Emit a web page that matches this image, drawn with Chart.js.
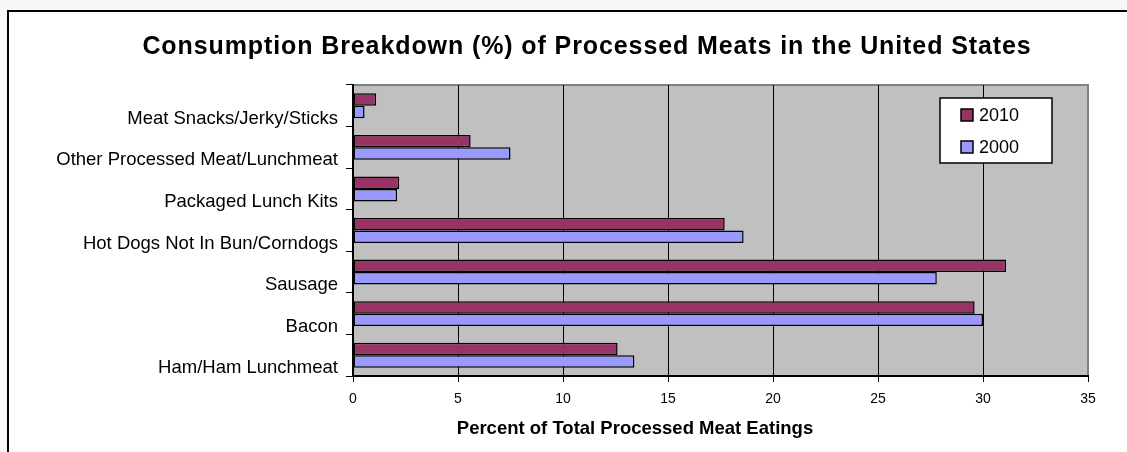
<!DOCTYPE html>
<html lang="en">
<head>
  <meta charset="UTF-8" />
  <title>Processed Meats Consumption</title>
  <script src="https://cdn.jsdelivr.net/npm/chart.js"></script>
  <style>
    html, body {
      margin: 0;
      padding: 0;
      width: 1127px;
      height: 452px;
      overflow: hidden;
      background: #f8f8f8;
      font-family: Arial, "Liberation Sans", sans-serif;
    }
    /* outer chart frame, runs off the right and bottom edge like the original */
    #frame {
      position: absolute;
      left: 7px;
      top: 10px;
      width: 1200px;
      height: 500px;
      border: 2px solid #000;
      background: #fff;
    }
    #wrap {
      position: absolute;
      left: 0;
      top: 0;
      width: 1127px;
      height: 452px;
    }
    .ttl {
      position: absolute;
      white-space: nowrap;
      transform: translateX(-50%);
      font-weight: bold;
      color: #000;
      line-height: 1;
    }
    #mainTitle { left: 587px; top: 33px; font-size: 25px; letter-spacing: 0.9px; }
    #xTitle { left: 635px; top: 419px; font-size: 18.5px; }
  </style>
</head>
<body>
  <div id="frame"></div>
  <div id="wrap"><canvas id="meatChart" width="1127" height="452"></canvas></div>
  <div id="mainTitle" class="ttl">Consumption Breakdown (%) of Processed Meats in the United States</div>
  <div id="xTitle" class="ttl">Percent of Total Processed Meat Eatings</div>

  <script>
    // categories, top to bottom
    const categories = [
      'Meat Snacks/Jerky/Sticks',
      'Other Processed Meat/Lunchmeat',
      'Packaged Lunch Kits',
      'Hot Dogs Not In Bun/Corndogs',
      'Sausage',
      'Bacon',
      'Ham/Ham Lunchmeat'
    ];
    const seriesNames = ['2010', '2000'];
    const values2010 = [1.1, 5.6, 2.2, 17.7, 31.1, 29.6, 12.6];
    const values2000 = [0.55, 7.5, 2.1, 18.6, 27.8, 30.0, 13.4];
    const xTicks = [0, 5, 10, 15, 20, 25, 30, 35];

    const MAROON = '#993366';
    const LAVENDER = '#9999ff';

    // gray plot background + gray top/right border
    const plotBg = {
      id: 'plotBg',
      beforeDraw(chart) {
        const { ctx, chartArea: a } = chart;
        ctx.save();
        ctx.fillStyle = '#c0c0c0';
        ctx.fillRect(a.left, a.top, a.right - a.left, a.bottom - a.top);
        ctx.strokeStyle = '#808080';
        ctx.lineWidth = 2;
        ctx.beginPath();
        ctx.moveTo(a.left, a.top);
        ctx.lineTo(a.right, a.top);
        ctx.lineTo(a.right, a.bottom);
        ctx.stroke();
        ctx.restore();
      }
    };

    // legend box inside the plot, like Excel
    const boxLegend = {
      id: 'boxLegend',
      afterDraw(chart) {
        const { ctx } = chart;
        const x = 940, y = 98, w = 112, h = 65;
        ctx.save();
        ctx.fillStyle = '#fff';
        ctx.fillRect(x, y, w, h);
        ctx.strokeStyle = '#000';
        ctx.lineWidth = 1.5;
        ctx.strokeRect(x, y, w, h);
        ctx.font = '18px Arial, "Liberation Sans", sans-serif';
        ctx.textBaseline = 'middle';
        chart.data.datasets.forEach((ds, i) => {
          const cy = y + 17 + i * 32;
          ctx.fillStyle = ds.backgroundColor;
          ctx.fillRect(x + 21, cy - 6, 12, 12);
          ctx.strokeStyle = '#000';
          ctx.lineWidth = 1.5;
          ctx.strokeRect(x + 21, cy - 6, 12, 12);
          ctx.fillStyle = '#000';
          ctx.fillText(ds.label, x + 39, cy + 1);
        });
        ctx.restore();
      }
    };

    const ctx = document.getElementById('meatChart').getContext('2d');
    new Chart(ctx, {
      type: 'bar',
      data: {
        labels: categories,
        datasets: [
          {
            label: seriesNames[0],
            data: values2010,
            backgroundColor: MAROON,
            borderColor: '#000',
            borderWidth: 1.5,
            borderSkipped: false
          },
          {
            label: seriesNames[1],
            data: values2000,
            backgroundColor: LAVENDER,
            borderColor: '#000',
            borderWidth: 1.5,
            borderSkipped: false
          }
        ]
      },
      options: {
        indexAxis: 'y',
        responsive: false,
        animation: false,
        devicePixelRatio: 1,
        barPercentage: 1,
        categoryPercentage: 0.6,
        layout: { padding: { top: 85, right: 39, bottom: 0, left: 0 } },
        plugins: {
          legend: { display: false },
          title: { display: false },
          tooltip: { enabled: false }
        },
        scales: {
          x: {
            type: 'linear',
            min: 0,
            max: 35,
            afterBuildTicks(axis) {
              axis.ticks = xTicks.map(v => ({ value: v }));
            },
            afterFit(axis) { axis.height = 76; },
            border: { display: true, color: '#000', width: 2 },
            grid: {
              color: c => (c.tick && c.tick.value === 35 ? '#808080' : '#000'),
              lineWidth: 1,
              tickColor: '#000',
              tickLength: 6
            },
            ticks: {
              color: '#000',
              padding: 9,
              font: { family: 'Arial, "Liberation Sans", sans-serif', size: 14 }
            }
          },
          y: {
            afterFit(axis) { axis.width = 353; },
            border: { display: true, color: '#000', width: 2 },
            grid: {
              drawOnChartArea: false,
              color: '#000',
              tickLength: 7,
              offset: true
            },
            ticks: {
              color: '#000',
              padding: 8,
              labelOffset: 13,
              font: { family: 'Arial, "Liberation Sans", sans-serif', size: 18.5 }
            }
          }
        }
      },
      plugins: [plotBg, boxLegend]
    });
  </script>
</body>
</html>
